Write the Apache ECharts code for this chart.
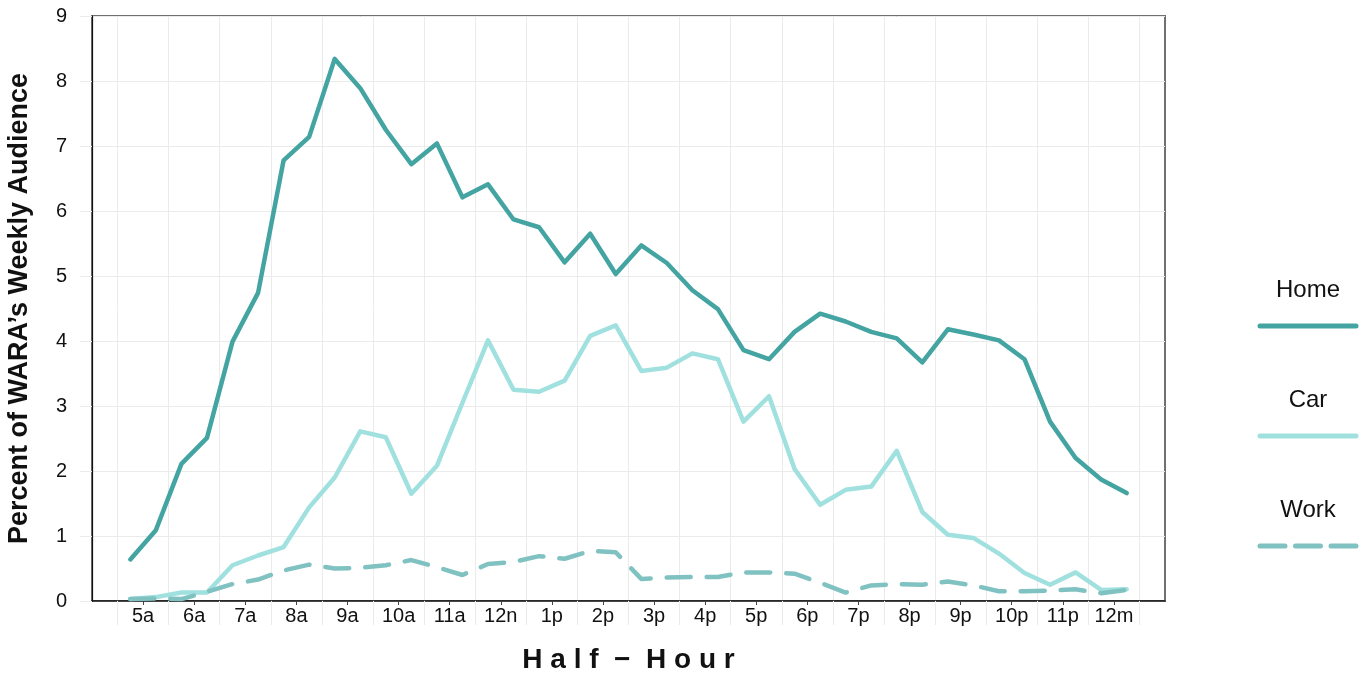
<!DOCTYPE html>
<html>
<head>
<meta charset="utf-8">
<script src="https://cdn.jsdelivr.net/npm/echarts@6/dist/echarts.min.js"></script>
<style>
  html, body { margin: 0; padding: 0; background: #ffffff; }
  #chart { width: 1367px; height: 675px; }
</style>
</head>
<body>
<div id="chart"></div>
<script>
// Hour labels (each hour holds two half-hour readings)
const hourLabels = ['5a','6a','7a','8a','9a','10a','11a','12n','1p','2p','3p','4p','5p','6p','7p','8p','9p','10p','11p','12m'];
const firstHour = 5;

// Percent of weekly audience, per half hour (5:00a .. 12:30m)
const homeValues = [0.64,1.09, 2.11,2.51, 3.99,4.74, 6.78,7.14, 8.34,7.89, 7.25,6.72, 7.04,6.21, 6.41,5.87, 5.75,5.21, 5.65,5.03,
                    5.47,5.20, 4.78,4.49, 3.86,3.72, 4.14,4.42, 4.30,4.14, 4.04,3.67, 4.18,4.10, 4.01,3.72, 2.76,2.20, 1.87,1.66];
const carValues  = [0.03,0.06, 0.13,0.13, 0.55,0.70, 0.83,1.44, 1.90,2.61, 2.52,1.65, 2.08,3.05, 4.01,3.25, 3.22,3.39, 4.08,4.24,
                    3.54,3.59, 3.81,3.72, 2.76,3.15, 2.03,1.48, 1.71,1.76, 2.31,1.37, 1.02,0.97, 0.73,0.43, 0.25,0.44, 0.17,0.18];
const workValues = [0.03,0.04, 0.03,0.14, 0.26,0.33, 0.47,0.56, 0.50,0.51, 0.55,0.63, 0.52,0.40, 0.57,0.60, 0.69,0.65, 0.77,0.75,
                    0.34,0.36, 0.37,0.37, 0.44,0.44, 0.42,0.28, 0.13,0.24, 0.26,0.25, 0.30,0.24, 0.15,0.15, 0.16,0.18, 0.12,0.17];

const seriesNames = ['Home', 'Car', 'Work'];
const seriesColors = ['#44a4a2', '#a0e1e0', '#80c2c1'];
const yTicks = [0,1,2,3,4,5,6,7,8,9];

const yTitle = 'Percent of WARA\u2019s Weekly Audience';
const xTitle = 'H a l f  \u2212  H o u r';

// Build helpers
const xMin = firstHour - 0.5;
const xMax = firstHour + hourLabels.length + 0.5;
// half-hour boundaries from xMin to xMax
const boundaries = [];
for (let h = xMin; h <= xMax + 1e-9; h += 0.5) boundaries.push(String(h));
function pairs(vals) {
  return vals.map((v, i) => [firstHour + 0.25 + 0.5 * i, v]);
}
const isHourLine = (idx) => idx % 2 === 1;
const isLabelPos = (idx) => idx % 2 === 0 && idx >= 2 && idx <= boundaries.length - 3;

const chart = echarts.init(document.getElementById('chart'), null, { renderer: 'canvas' });

const FONT = '"Liberation Sans", Arial, Helvetica, sans-serif';

const legendX = 1308, legendY0 = 290, legendStep = 110;
const graphics = [];
seriesNames.forEach((name, i) => {
  graphics.push({
    type: 'text',
    style: { text: name, fill: '#111', font: '24px ' + FONT, textAlign: 'center', textVerticalAlign: 'middle' },
    x: legendX, y: legendY0 + i * legendStep
  });
  graphics.push({
    type: 'line',
    shape: { x1: legendX - 48, y1: legendY0 + i * legendStep + 36, x2: legendX + 48, y2: legendY0 + i * legendStep + 36 },
    style: { stroke: seriesColors[i], lineWidth: 5, lineCap: 'round', lineDash: i === 2 ? [25, 10.5] : null }
  });
});

const option = {
  animation: false,
  backgroundColor: '#ffffff',
  textStyle: { fontFamily: FONT },
  grid: { left: 92, right: 202, top: 16, bottom: 74, containLabel: false, outerBoundsMode: 'none',
          show: true, borderColor: '#707070', borderWidth: 2, backgroundColor: 'transparent' },
  xAxis: [
    { // data axis
      type: 'value', min: xMin, max: xMax, show: false
    },
    { // hour grid lines
      type: 'category', boundaryGap: false, data: boundaries, position: 'bottom',
      axisLine: { show: true, lineStyle: { color: '#111', width: 1.5 } },
      axisTick: { show: true, interval: isHourLine, length: 24, lineStyle: { color: '#ebebeb', width: 1 } },
      splitLine: { show: true, interval: isHourLine, lineStyle: { color: '#ebebeb', width: 1 } },
      axisLabel: { show: false }
    },
    { // hour labels
      type: 'category', boundaryGap: false, data: boundaries, position: 'bottom',
      axisLine: { show: false },
      axisTick: { show: true, interval: isLabelPos, length: 4, lineStyle: { color: '#444', width: 1 } },
      splitLine: { show: false },
      axisLabel: {
        show: true, interval: isLabelPos, margin: 5, fontSize: 20, color: '#111', fontFamily: FONT,
        formatter: (v, idx) => hourLabels[(idx - 2) / 2] || ''
      },
      name: xTitle, nameLocation: 'middle', nameGap: 45,
      nameTextStyle: { fontSize: 28, fontWeight: 'bold', color: '#111', fontFamily: FONT }
    }
  ],
  yAxis: {
    type: 'value', min: yTicks[0], max: yTicks[yTicks.length - 1], interval: 1,
    axisLine: { show: true, lineStyle: { color: '#111', width: 1.2 } },
    axisTick: { show: true, length: 12, lineStyle: { color: '#ebebeb' } },
    splitLine: { show: true, lineStyle: { color: '#ebebeb', width: 1 } },
    axisLabel: { margin: 25, fontSize: 20, color: '#111', fontFamily: FONT },
    name: yTitle, nameLocation: 'middle', nameGap: 59,
    nameTextStyle: { fontSize: 27, fontWeight: 'bold', color: '#111', fontFamily: FONT }
  },
  series: [
    { name: seriesNames[0], type: 'line', xAxisIndex: 0, data: pairs(homeValues), showSymbol: false, symbol: 'none',
      lineStyle: { color: seriesColors[0], width: 4.5, cap: 'round', join: 'round' }, z: 4 },
    { name: seriesNames[1], type: 'line', xAxisIndex: 0, data: pairs(carValues), showSymbol: false, symbol: 'none',
      lineStyle: { color: seriesColors[1], width: 4.5, cap: 'round', join: 'round' }, z: 2 },
    { name: seriesNames[2], type: 'line', xAxisIndex: 0, data: pairs(workValues), showSymbol: false, symbol: 'none',
      lineStyle: { color: seriesColors[2], width: 4.5, type: [24, 16], cap: 'round', join: 'round' }, z: 3 }
  ],
  graphic: graphics
};
chart.setOption(option);
</script>
</body>
</html>
